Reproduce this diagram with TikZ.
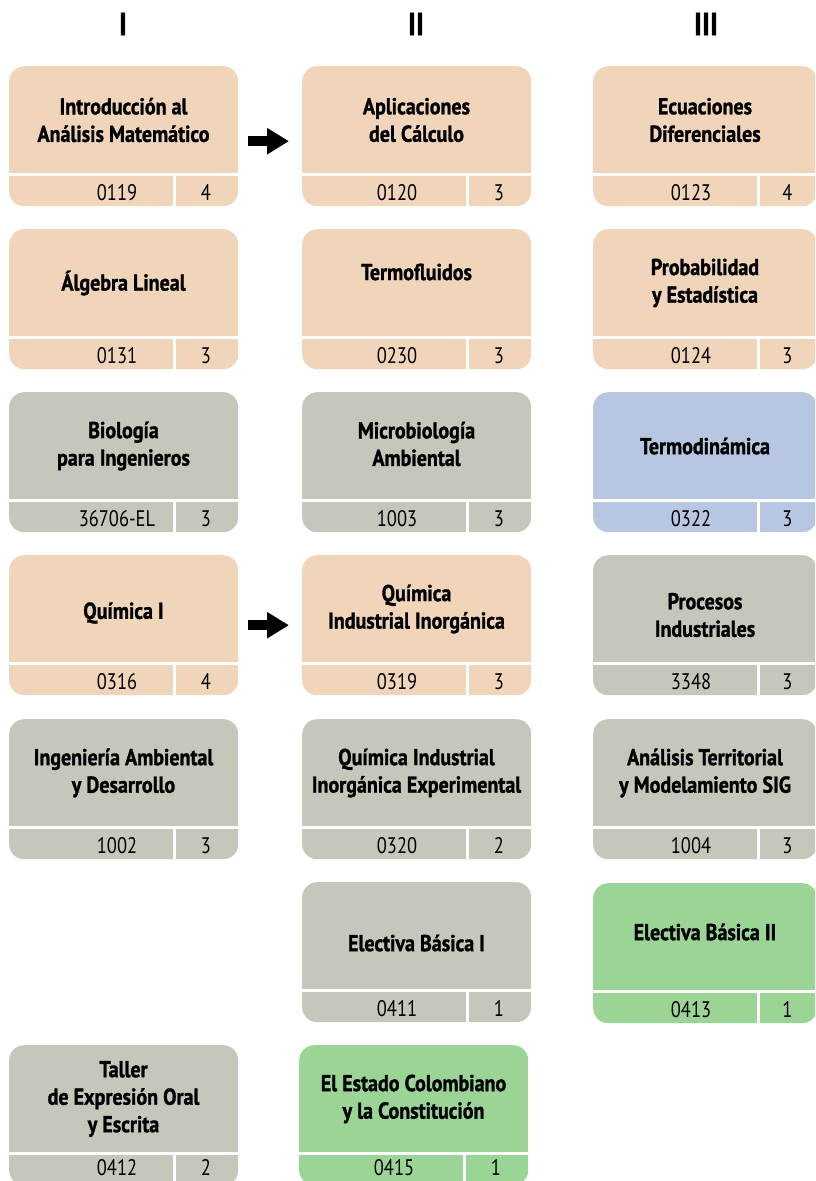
\documentclass[tikz,border=0pt]{standalone}
\usepackage{fontspec}
\setmainfont{PT Sans}[FakeStretch=0.82]
\newfontfamily\titlefont{PT Sans}[FakeStretch=0.87, BoldFeatures={FakeBold=1.2}]
\usetikzlibrary{calc,arrows.meta}
\definecolor{peach}{RGB}{240,213,186}
\definecolor{greyc}{RGB}{196,199,186}
\definecolor{bluec}{RGB}{183,199,225}
\definecolor{greenc}{RGB}{155,213,149}
\def\cardw{229}
\def\codey{134}
% #1 name, #2 x, #3 y, #4 colour, #5 title dy, #6 title, #7 code, #8 code offset, #9 credit
\newcommand\mycard[9]{%
  \node[cardbox, fill=#4, minimum width=\cardw pt] (#1) at (#2,#3) {};
  \draw[divline] ($(#1.north west)+(0,108)$) -- ($(#1.north east)+(0,108)$);
  \draw[divline] ($(#1.north west)+(165,108)$) -- ($(#1.south west)+(165,0)$);
  \node[titletext] (#1-t) at ($(#1.north west)+({\cardw/2},{54+#5})$) {#6};
  \node[codetext] (#1-c) at ($(#1.north west)+(#8,\codey)$) {#7};
  \node[codetext] (#1-k) at ($(#1.north west)+({165+(\cardw-165)/2},\codey)$) {#9};
}
\begin{document}
\begin{tikzpicture}[x=1pt,y=-1pt,
  cardbox/.style={rectangle, rounded corners=15pt, minimum height=140pt, inner sep=0pt, anchor=north west, draw=none},
  divline/.style={white, line width=3pt},
  titletext/.style={align=center, inner sep=0pt, anchor=center, font=\titlefont\bfseries\fontsize{23}{27.5}\selectfont},
  codetext/.style={inner sep=0pt, anchor=base, font=\fontsize{22.5}{24}\selectfont},
  headtext/.style={inner sep=0pt, anchor=center, font=\titlefont\bfseries\fontsize{32}{34}\selectfont},
  bigarrow/.style={line width=10pt, -{Triangle[length=22pt,width=25pt]}, shorten <=10pt, shorten >=13pt}]
\useasboundingbox (0,0) rectangle (815,1181);
\clip (0,0) rectangle (815,1181);
\node[headtext] (hI) at (123,24) {I};
\node[headtext] (hII) at (416,24) {II};
\node[headtext] (hIII) at (706,24) {III};
% column I
\mycard{a1}{9}{66}{peach}{0}{Introducción al\\Análisis Matemático}{0119}{108}{4}
\mycard{a2}{9}{229}{peach}{0}{Álgebra Lineal}{0131}{108}{3}
\mycard{a3}{9}{392}{greyc}{0}{Biología\\para Ingenieros}{36706-EL}{108}{3}
\mycard{a4}{9}{555}{peach}{4}{Química I}{0316}{108}{4}
\mycard{a5}{9}{719}{greyc}{0}{Ingeniería Ambiental\\y Desarrollo}{1002}{108}{3}
% column II
\mycard{b1}{302}{66}{peach}{0}{Aplicaciones\\del Cálculo}{0120}{95}{3}
\mycard{b2}{302}{229}{peach}{-11}{Termofluidos}{0230}{95}{3}
\mycard{b3}{302}{392}{greyc}{-2}{Microbiología\\Ambiental}{1003}{95}{3}
\mycard{b4}{302}{555}{peach}{0}{Química\\Industrial Inorgánica}{0319}{95}{3}
\mycard{b5}{302}{719}{greyc}{0}{Química Industrial\\Inorgánica Experimental}{0320}{95}{2}
\mycard{b6}{302}{882}{greyc}{7}{Electiva Básica I}{0411}{95}{1}
% bottom row
\def\codey{130}
\mycard{a7}{9}{1045}{greyc}{0}{Taller\\de Expresión Oral\\y Escrita}{0412}{108}{2}
\mycard{b7}{299}{1045}{greenc}{0}{El Estado Colombiano\\y la Constitución}{0415}{95}{1}
% column III
\def\codey{134}
\def\cardw{224}
\mycard{c1}{593}{66}{peach}{0}{Ecuaciones\\Diferenciales}{0123}{98}{4}
\mycard{c2}{593}{229}{peach}{0}{Probabilidad\\y Estadística}{0124}{98}{3}
\mycard{c3}{593}{392}{bluec}{0}{Termodinámica}{0322}{98}{3}
\mycard{c4}{593}{555}{greyc}{6}{Procesos\\Industriales}{3348}{98}{3}
\mycard{c5}{593}{719}{greyc}{0}{Análisis Territorial\\y Modelamiento SIG}{1004}{98}{3}
\mycard{c6}{593}{883}{greenc}{-5}{Electiva Básica II}{0413}{98}{1}
% arrows
\draw[bigarrow] ([yshift=-5pt]a1.east) -- ([yshift=-5pt]b1.west);
\draw[bigarrow] (a4.east) -- (b4.west);
\end{tikzpicture}
\end{document}
